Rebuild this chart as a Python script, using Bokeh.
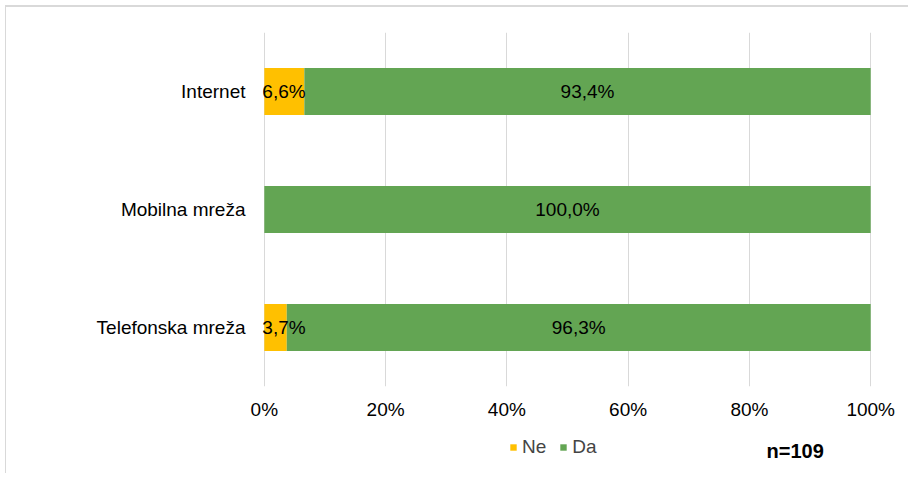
from bokeh.plotting import figure
from bokeh.layouts import column
from bokeh.models import (ColumnDataSource, Range1d, FactorRange, FixedTicker,
                          PrintfTickFormatter, Legend, LegendItem, Label)
from bokeh.embed import file_html
from bokeh.resources import INLINE

categories = ["Internet", "Mobilna mreža", "Telefonska mreža"]
ne_values = [6.6, 0.0, 3.7]
da_values = [93.4, 100.0, 96.3]
x_ticks = [0, 20, 40, 60, 80, 100]
series_names = ["Ne", "Da"]
sample_note = "n=109"

NE_COLOR = "#FFC000"
DA_COLOR = "#63A553"
FONT = "Liberation Sans"
BORDER = "#d9d9d9"

def fmt(v):
    return f"{v:.1f}".replace(".", ",") + "%"

src = ColumnDataSource(dict(
    cat=categories,
    ne_right=ne_values,
    da_left=ne_values,
    da_right=[a + b for a, b in zip(ne_values, da_values)],
    da_mid=[a + b / 2 for a, b in zip(ne_values, da_values)],
    da_lbl=[fmt(v) for v in da_values],
))
ne_idx = [i for i, v in enumerate(ne_values) if v > 0]
src_ne_lbl = ColumnDataSource(dict(
    cat=[categories[i] for i in ne_idx],
    x=[0 for i in ne_idx],
    lbl=[fmt(ne_values[i]) for i in ne_idx],
))

# ---- main chart ----
p = figure(width=903, height=419, output_backend="svg", toolbar_location=None,
           y_range=FactorRange(*reversed(categories)),
           x_range=Range1d(-0.3, 100.3),
           min_border_left=256, min_border_right=37,
           min_border_top=25, min_border_bottom=40,
           styles={"border-left": f"1px solid {BORDER}", "border-top": f"2px solid {BORDER}",
                   "margin-left": "5px", "margin-top": "5px"})
p.outline_line_color = None
p.background_fill_color = "white"
p.border_fill_color = "white"

p.hbar(y="cat", left=0, right="ne_right", height=0.4, source=src,
       fill_color=NE_COLOR, line_color=None)
p.hbar(y="cat", left="da_left", right="da_right", height=0.4, source=src,
       fill_color=DA_COLOR, line_color=None)

p.text(x="da_mid", y="cat", text="da_lbl", source=src, text_align="center",
       text_baseline="middle", text_font_size="19px", text_color="black",
       text_font={"value": FONT})
p.text(x="x", y="cat", text="lbl", source=src_ne_lbl, text_align="left",
       x_offset=-2, text_baseline="middle", text_font_size="19px",
       text_color="black", text_font={"value": FONT})

p.xaxis.ticker = FixedTicker(ticks=x_ticks)
p.xaxis.formatter = PrintfTickFormatter(format="%d%%")
for ax in (p.xaxis[0], p.yaxis[0]):
    ax.axis_line_color = None
    ax.major_tick_line_color = None
    ax.minor_tick_line_color = None
    ax.major_tick_out = 0
    ax.major_tick_in = 0
    ax.major_label_text_font = FONT
    ax.major_label_text_font_size = "19px"
    ax.major_label_text_color = "#000000"
p.xaxis.major_label_standoff = 12
p.yaxis.major_label_standoff = 17

p.xgrid.grid_line_color = BORDER
p.xgrid.ticker = FixedTicker(ticks=x_ticks)
p.ygrid.grid_line_color = None

# ---- legend strip (frame aligned with the chart's frame by the column) ----
p2 = figure(width=903, height=49, output_backend="svg", toolbar_location=None,
            x_range=Range1d(-300, -200), y_range=FactorRange(*reversed(categories)),
            x_axis_type=None, y_axis_type=None,
            min_border_left=0, min_border_right=0,
            min_border_top=0, min_border_bottom=0,
            styles={"border-left": f"1px solid {BORDER}", "margin-left": "5px"})
p2.outline_line_color = None
p2.grid.visible = False
p2.background_fill_color = "white"
p2.border_fill_color = "white"

# same series as the chart, zero height and out of view: used only for legend swatches
lg_ne = p2.hbar(y="cat", left=0, right="ne_right", height=0, source=src,
                fill_color=NE_COLOR, line_color=None)
lg_da = p2.hbar(y="cat", left="da_left", right="da_right", height=0, source=src,
                fill_color=DA_COLOR, line_color=None)

legend = Legend(items=[LegendItem(label=series_names[0], renderers=[lg_ne]),
                       LegendItem(label=series_names[1], renderers=[lg_da])],
                orientation="horizontal", location=(247, 15),
                border_line_color=None, background_fill_alpha=0,
                glyph_width=8, glyph_height=8, label_text_font=FONT,
                label_text_font_size="19px", label_standoff=5, spacing=13,
                padding=0, margin=0)
p2.add_layout(legend, "center")

note = Label(x=504, y=23, x_units="screen", y_units="screen", text=sample_note,
             text_font=FONT, text_font_size="20px", text_font_style="bold",
             text_baseline="middle", text_align="left", text_color="black")
p2.add_layout(note)

layout = column(p, p2, spacing=0)
open("out.html", "w").write(file_html(layout, INLINE))
